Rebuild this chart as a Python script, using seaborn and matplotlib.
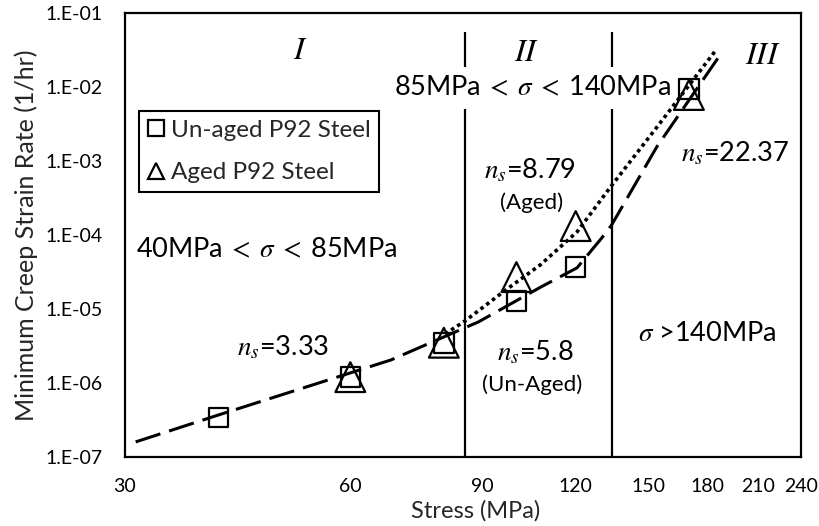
import matplotlib
matplotlib.use("Agg")
import matplotlib.pyplot as plt
import seaborn as sns
import pandas as pd
from matplotlib.lines import Line2D
from matplotlib.ticker import FixedLocator, FixedFormatter, NullLocator

# ---------------- data ----------------
unaged_stress = [40, 60, 80, 100, 120, 170]
unaged_rate = [3.4e-7, 1.2e-6, 3.5e-6, 1.28e-5, 3.7e-5, 9.4e-3]
aged_stress = [60, 80, 100, 120, 170]
aged_rate = [1.2e-6, 3.5e-6, 2.7e-5, 1.32e-4, 7.8e-3]

unaged_fit_stress = [31, 40, 68, 89, 108, 120.5, 130, 134, 154, 188]
unaged_fit_rate = [1.6e-7, 3.7e-7, 2.05e-6, 6.7e-6, 2.0e-5, 3.6e-5, 9.1e-5, 1.36e-4, 1.55e-3, 2.9e-2]
aged_fit_stress = [80.3, 85.4, 96, 107.6, 120.5, 133.9, 154.2, 184.8]
aged_fit_rate = [4.6e-6, 6.9e-6, 1.7e-5, 3.94e-5, 1.1e-4, 4.6e-4, 2.9e-3, 3.16e-2]

region_bounds = [85.5, 134]
region_top = 5.5e-2

x_ticks = [30, 60, 90, 120, 150, 180, 210, 240]
x_tick_labels = ["30", "60", "90", "120", "150", "180", "210", "240"]
y_ticks = [1e-7, 1e-6, 1e-5, 1e-4, 1e-3, 1e-2, 1e-1]
y_tick_labels = ["1.E-07", "1.E-06", "1.E-05", "1.E-04", "1.E-03", "1.E-02", "1.E-01"]
series_labels = ["Un-aged P92 Steel", "Aged P92 Steel"]

# ---------------- style ----------------
sns.set_style("white")
plt.rcParams["font.family"] = ["Lato", "DejaVu Sans"]
plt.rcParams["mathtext.fontset"] = "stix"

fig = plt.figure(figsize=(8.19, 5.26), dpi=100)
ax = fig.add_axes([125 / 819, 1 - 457 / 526, 676 / 819, 444 / 526])
ax.set_xscale("log")
ax.set_yscale("log")
ax.set_xlim(30, 240)
ax.set_ylim(1e-7, 1e-1)

# region boundaries
for xb in region_bounds:
    ax.plot([xb, xb], [1e-7, region_top], color="black", lw=1.6, zorder=1,
            solid_capstyle="butt")

# fitted trend lines
df_uf = pd.DataFrame({"s": unaged_fit_stress, "r": unaged_fit_rate})
df_af = pd.DataFrame({"s": aged_fit_stress, "r": aged_fit_rate})
sns.lineplot(data=df_uf, x="s", y="r", ax=ax, color="black", lw=2.2,
             sort=False, estimator=None, zorder=4)
ax.lines[-1].set_dashes([8.5, 3])
sns.lineplot(data=df_af, x="s", y="r", ax=ax, color="black", lw=2.6,
             sort=False, estimator=None, zorder=4)
ax.lines[-1].set_dashes([1, 1])

# markers
df_u = pd.DataFrame({"s": unaged_stress, "r": unaged_rate})
df_a = pd.DataFrame({"s": aged_stress, "r": aged_rate})
sns.scatterplot(data=df_u, x="s", y="r", ax=ax, marker="s", s=200,
                facecolor="none", edgecolor="black", linewidth=1.6, zorder=5)
sns.scatterplot(data=df_a, x="s", y="r", ax=ax, marker="^", s=460,
                facecolor="none", edgecolor="black", linewidth=1.6, zorder=5)

# axes formatting
ax.xaxis.set_major_locator(FixedLocator(x_ticks))
ax.xaxis.set_major_formatter(FixedFormatter(x_tick_labels))
ax.xaxis.set_minor_locator(NullLocator())
ax.yaxis.set_major_locator(FixedLocator(y_ticks))
ax.yaxis.set_major_formatter(FixedFormatter(y_tick_labels))
ax.yaxis.set_minor_locator(NullLocator())
ax.tick_params(axis="both", direction="in", length=6, width=1.5, color="black",
               labelsize=14, labelcolor="black")
ax.tick_params(axis="x", pad=15)
ax.tick_params(axis="y", pad=16)
for sp in ax.spines.values():
    sp.set_color("black")
    sp.set_linewidth(1.6)

ax.set_xlabel("Stress (MPa)", fontsize=17)
ax.set_ylabel("Minimum Creep Strain Rate (1/hr)", fontsize=18)
ax.xaxis.set_label_coords(0.519, -0.098)
ax.yaxis.set_label_coords(-0.128, 0.5)

# annotations
def axfrac(px, py):
    return ((px - 125) / 676, (457 - py) / 444)

txt_kw = dict(transform=ax.transAxes, ha="center", va="center", color="black")
big = 19.5
small = 16
ax.text(*axfrac(300, 50), r"$I$", fontsize=23, **txt_kw)
ax.text(*axfrac(527, 52), r"$II$", fontsize=23, **txt_kw)
ax.text(*axfrac(763, 55), r"$III$", fontsize=23, **txt_kw)
ax.text(*axfrac(532, 88), r"85MPa$\;<\;\sigma\;<\;$140MPa", fontsize=big, zorder=2,
        bbox=dict(boxstyle="square,pad=0.3", facecolor="white", edgecolor="none"),
        **txt_kw)
ax.text(*axfrac(267, 250), r"40MPa$\;<\;\sigma\;<\;$85MPa", fontsize=big, **txt_kw)
ax.text(*axfrac(283, 347), r"$n_s$=3.33", fontsize=big, **txt_kw)
ax.text(*axfrac(530, 170), r"$n_s$=8.79", fontsize=big, **txt_kw)
ax.text(*axfrac(532, 203), "(Aged)", fontsize=small, **txt_kw)
ax.text(*axfrac(535, 352), r"$n_s$=5.8", fontsize=big, **txt_kw)
ax.text(*axfrac(532, 385), "(Un-Aged)", fontsize=small, **txt_kw)
ax.text(*axfrac(707, 333), r"$\sigma$ >140MPa", fontsize=big, **txt_kw)
ax.text(*axfrac(735, 153), r"$n_s$=22.37", fontsize=big, **txt_kw)

# legend
handles = [
    Line2D([], [], ls="none", marker="s", markersize=11, markerfacecolor="none",
           markeredgecolor="black", markeredgewidth=1.6),
    Line2D([], [], ls="none", marker="^", markersize=11, markerfacecolor="none",
           markeredgecolor="black", markeredgewidth=1.6),
]
leg = ax.legend(handles, series_labels, loc="upper left",
                bbox_to_anchor=axfrac(139, 111), borderaxespad=0,
                fontsize=17.5, frameon=True, fancybox=False, framealpha=1,
                edgecolor="black", handlelength=0.7, handletextpad=0.25,
                borderpad=0.35, labelspacing=0.9)
leg.get_frame().set_linewidth(1.5)

fig.savefig("out.png", dpi=100)
